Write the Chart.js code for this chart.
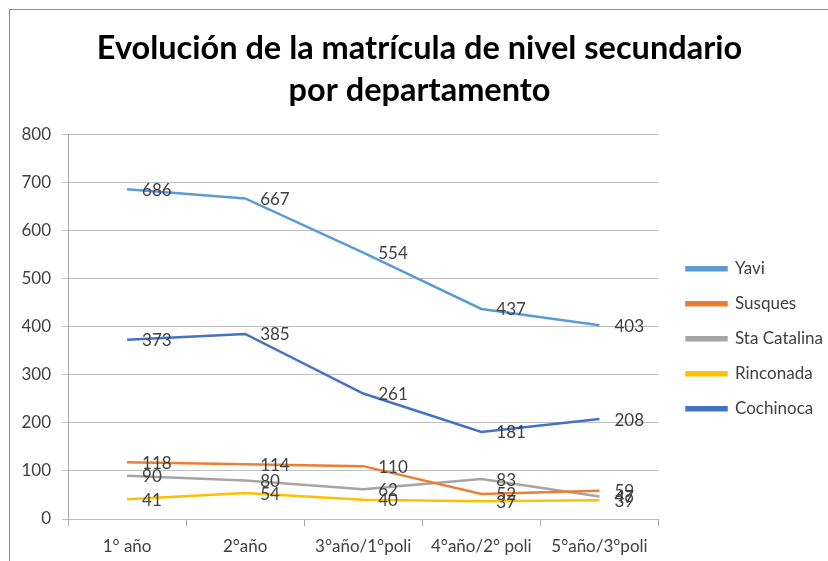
<!DOCTYPE html>
<html>
<head>
<meta charset="utf-8">
<script src="https://cdn.jsdelivr.net/npm/chart.js@4.4.1/dist/chart.umd.min.js"></script>
<style>
    html, body { margin: 0; padding: 0; background: #fff; overflow: hidden; }
    #frame {
        position: absolute; left: 9px; top: 9px; width: 900px; height: 700px;
        border-left: 1px solid #8c8c8c; border-top: 1px solid #8c8c8c;
    }
    #wrap { position: absolute; left: 0; top: 0; width: 828px; height: 561px; }
</style>
</head>
<body>
<div id="frame"></div>
<div id="wrap"><canvas id="chart" width="828" height="561"></canvas></div>
<script>
// categories (school years)
const categories = ['1° año', '2°año', '3°año/1°poli', '4°año/2° poli', '5°año/3°poli'];

// enrolment per department
const yavi = [686, 667, 554, 437, 403];
const susques = [118, 114, 110, 52, 59];
const staCatalina = [90, 80, 62, 83, 47];
const rinconada = [41, 54, 40, 37, 39];
const cochinoca = [373, 385, 261, 181, 208];

const yTicks = [0, 100, 200, 300, 400, 500, 600, 700, 800];

const FONT = 'Lato, "Open Sans", sans-serif';

document.addEventListener('DOMContentLoaded', () => {
    /**
     * Writes the value next to each point, like the original spreadsheet chart.
     */
    const valueLabels = {
        id: 'valueLabels',
        afterDatasetsDraw(chart) {
            const ctx = chart.ctx;
            ctx.save();
            ctx.font = '17px ' + FONT;
            ctx.fillStyle = '#404040';
            ctx.textBaseline = 'middle';
            ctx.textAlign = 'left';
            chart.data.datasets.forEach((ds, i) => {
                const meta = chart.getDatasetMeta(i);
                meta.data.forEach((pt, j) => {
                    ctx.fillText(String(ds.data[j]), pt.x + 15, pt.y + 1);
                });
            });
            ctx.restore();
        }
    };

    /**
     * Nudges the legend a bit to the right, leaving a wider gap after the plot.
     */
    const legendGap = {
        id: 'legendGap',
        afterLayout(chart) {
            chart.legend.left += 10;
            chart.legend.right += 10;
        }
    };

    const line = (label, data, color) => ({
        label: label,
        data: data,
        borderColor: color,
        backgroundColor: color,
        borderWidth: 2.5,
        pointRadius: 0,
        tension: 0,
        fill: false
    });

    const ctx = document.getElementById('chart').getContext('2d');
    new Chart(ctx, {
        type: 'line',
        data: {
            labels: categories,
            datasets: [
                line('Yavi', yavi, '#5B9BD5'),
                line('Susques', susques, '#ED7D31'),
                line('Sta Catalina', staCatalina, '#A5A5A5'),
                line('Rinconada', rinconada, '#FFC000'),
                line('Cochinoca', cochinoca, '#4472C4')
            ]
        },
        options: {
            responsive: false,
            animation: false,
            layout: { padding: { left: 16, right: 5, top: 0, bottom: 0 } },
            plugins: {
                title: {
                    display: true,
                    text: ['Evolución de la matrícula de nivel secundario', 'por departamento'],
                    color: '#000',
                    font: { family: FONT, size: 32.5, weight: 'bold', lineHeight: 1.3 },
                    padding: { top: 27, bottom: 23 }
                },
                legend: {
                    position: 'right',
                    title: {
                        // blank title, only used to push the entries down
                        display: true,
                        text: ' ',
                        font: { size: 12, lineHeight: 1.2 },
                        padding: 51
                    },
                    labels: {
                        color: '#404040',
                        font: { family: FONT, size: 17 },
                        boxWidth: 40,
                        boxHeight: 3,
                        padding: 18
                    }
                },
                tooltip: { enabled: false }
            },
            scales: {
                x: {
                    offset: true,
                    afterFit: (axis) => { axis.height = 42; },
                    grid: {
                        offset: true,
                        drawOnChartArea: false,
                        drawTicks: true,
                        tickLength: 7,
                        color: '#a6a6a6'
                    },
                    border: { display: false },
                    ticks: {
                        color: '#404040',
                        font: { family: FONT, size: 17 },
                        padding: 10,
                        maxRotation: 0
                    }
                },
                y: {
                    min: 0,
                    max: 800,
                    afterBuildTicks: (axis) => { axis.ticks = yTicks.map(v => ({ value: v })); },
                    afterFit: (axis) => { axis.width = 52; },
                    grid: { color: '#bfbfbf', tickLength: 6 },
                    border: { display: true, color: '#a6a6a6' },
                    ticks: {
                        color: '#404040',
                        font: { family: FONT, size: 17 },
                        padding: 11
                    }
                }
            }
        },
        plugins: [valueLabels, legendGap]
    });
});
</script>
</body>
</html>
